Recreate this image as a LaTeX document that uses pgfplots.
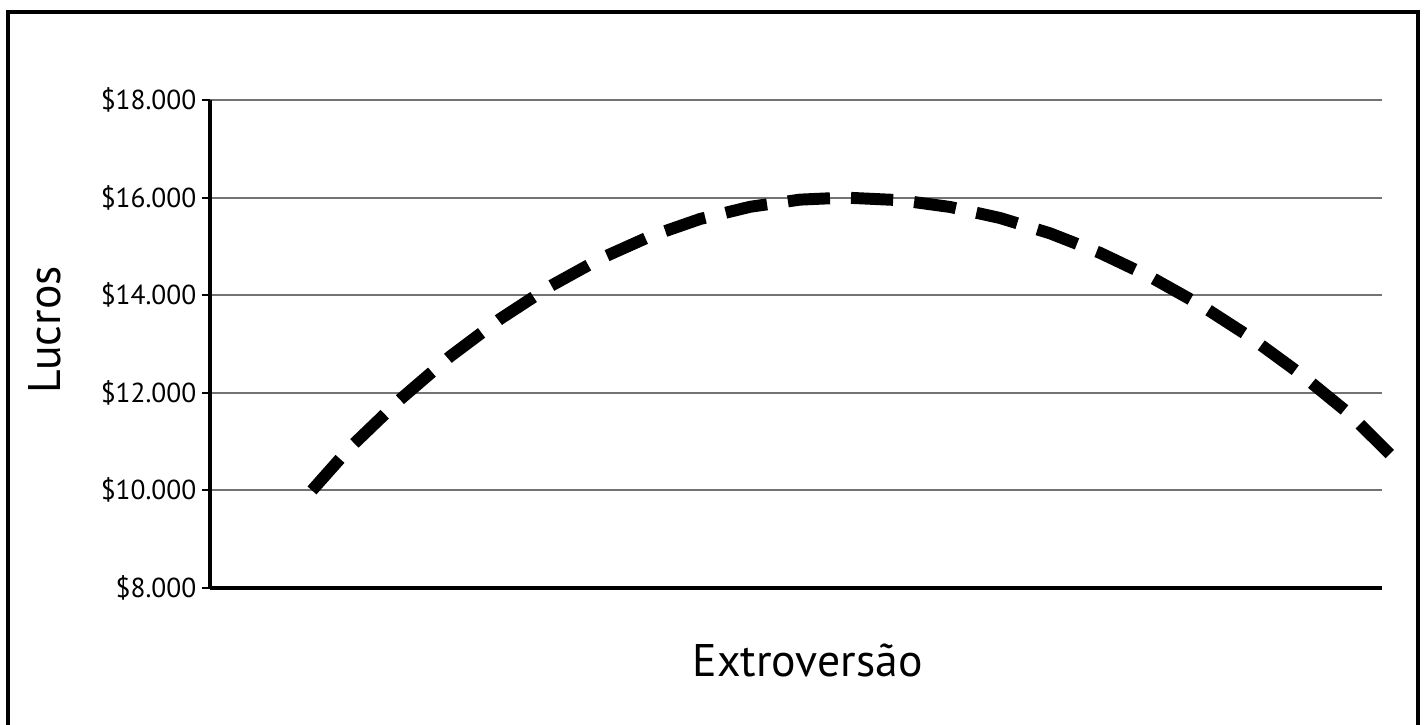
\documentclass[border=0pt]{standalone}
\usepackage{fontspec}
\setmainfont{PT Sans}
\usepackage{pgfplots}
\pgfplotsset{compat=1.18}
\begin{document}
\begin{tikzpicture}
\useasboundingbox (0,0) rectangle (14.26cm,7.25cm);
\draw[line width=0.04cm] (0.08cm,-0.1cm) -- (0.08cm,7.13cm) -- (14.18cm,7.13cm) -- (14.18cm,-0.1cm);
\begin{axis}[
 scale only axis, width=11.72cm, height=4.88cm,
 at={(2.10cm,1.37cm)}, anchor=south west,
 xmin=210, xmax=1382, ymin=8000, ymax=18000,
 axis x line=bottom, axis y line=left,
 axis line style={line width=1.1pt, -},
 scaled y ticks=false,
 xtick=\empty,
 ytick={8000,10000,12000,14000,16000,18000},
 yticklabels={\$8.000,\$10.000,\$12.000,\$14.000,\$16.000,\$18.000},
 ymajorgrids, grid style={black!55, line width=0.6pt},
 tick align=outside, major tick length=2.2pt, tick style={black, line width=0.6pt},
 yticklabel style={font=\fontsize{7.8}{9}\selectfont, inner xsep=1.5pt},
 xlabel={Extroversão}, ylabel={Lucros},
 label style={font=\fontsize{13}{15}\selectfont},
 xlabel style={at={(axis description cs:0.51,-0.1475)}, anchor=center},
 ylabel style={at={(axis description cs:-0.1408,0.529)}, anchor=center},
 clip=false,
]
\addplot[black, line width=3.4pt, line cap=butt, dash pattern=on 12pt off 6pt] coordinates {
(312,10000) (350,10877) (400,11861) (450,12742) (500,13512) (550,14181)
(600,14746) (650,15205) (700,15561) (750,15811) (800,15958) (845,16000)
(900,15947) (950,15808) (1000,15582) (1050,15268) (1100,14867) (1150,14379)
(1200,13805) (1250,13143) (1300,12393) (1350,11557) (1392,10700)
};
\end{axis}
\end{tikzpicture}
\end{document}
